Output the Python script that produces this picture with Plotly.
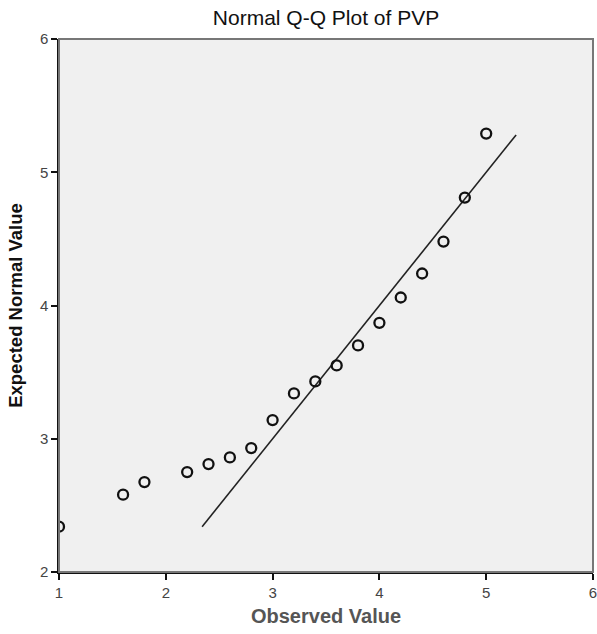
import plotly.graph_objects as go

observed = [1.0, 1.6, 1.8, 2.2, 2.4, 2.6, 2.8, 3.0, 3.2, 3.4, 3.6, 3.8, 4.0, 4.2, 4.4, 4.6, 4.8, 5.0]
expected = [2.34, 2.58, 2.675, 2.75, 2.81, 2.86, 2.93, 3.14, 3.34, 3.43, 3.55, 3.70, 3.87, 4.06, 4.24, 4.48, 4.81, 5.29]
line_x = [2.34, 5.28]
line_y = [2.34, 5.28]
x_ticks = [1, 2, 3, 4, 5, 6]
y_ticks = [2, 3, 4, 5, 6]

FONT = "Liberation Sans, Arial, sans-serif"

fig = go.Figure()
fig.add_trace(go.Scatter(
    x=line_x, y=line_y, mode="lines",
    line=dict(color="#222222", width=1.6),
    hoverinfo="skip", showlegend=False,
))
fig.add_trace(go.Scatter(
    x=observed, y=expected, mode="markers",
    marker=dict(symbol="circle-open", size=10, color="#111111", line=dict(width=2.3, color="#111111")),
    cliponaxis=True, showlegend=False,
))

fig.update_layout(
    width=597, height=634,
    margin=dict(l=59, r=4, t=39, b=62),
    paper_bgcolor="white",
    plot_bgcolor="#f0f0f0",
    title=dict(text="Normal Q-Q Plot of PVP", x=0.5, xref="paper", y=1 - 18 / 634, yanchor="middle",
               font=dict(family=FONT, size=21, color="#111111")),
    shapes=[dict(type="rect", xref="paper", yref="paper", x0=0, x1=1, y0=0, y1=1,
                 line=dict(color="#777777", width=2), layer="above")],
)
fig.update_xaxes(
    range=[1, 6], tickvals=x_ticks, ticktext=[str(v) for v in x_ticks],
    showgrid=False, zeroline=False, automargin=False, ticklabeloverflow="allow",
    showline=True, linecolor="#111111", linewidth=1.5,
    ticks="outside", ticklen=6, tickcolor="#111111", tickwidth=1.5,
    tickfont=dict(family=FONT, size=15, color="#444444"),
    title=dict(text="<b>Observed Value</b>", font=dict(family=FONT, size=20, color="#555555"), standoff=9),
)
fig.update_yaxes(
    range=[2, 6], tickvals=y_ticks, ticktext=[str(v) for v in y_ticks],
    showgrid=False, zeroline=False, automargin=False, ticklabeloverflow="allow",
    showline=True, linecolor="#111111", linewidth=1.5,
    ticks="outside", ticklen=6, tickcolor="#111111", tickwidth=1.5,
    tickfont=dict(family=FONT, size=15, color="#444444"),
    title=dict(text="<b>Expected Normal Value</b>", font=dict(family=FONT, size=18.5, color="#111111"), standoff=12),
)

fig.write_html("out.html")
